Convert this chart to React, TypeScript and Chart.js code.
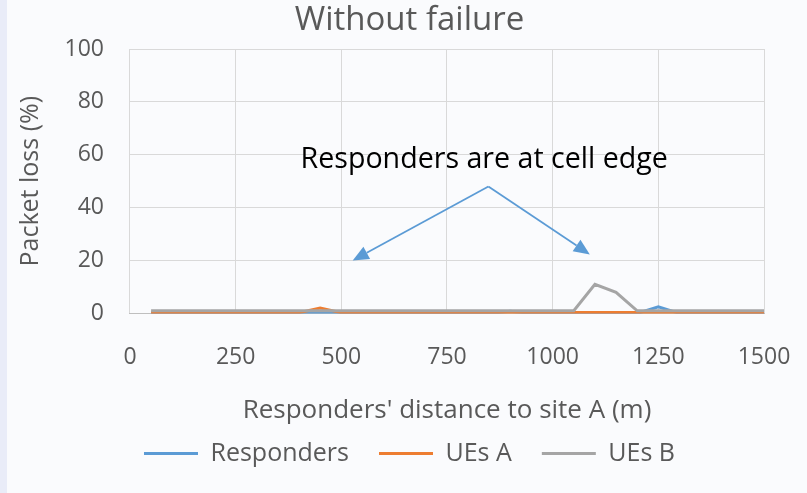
import React, { useEffect, useRef } from "react";
import { Chart, registerables } from "chart.js";

Chart.register(...registerables);

const distances = [50, 100, 150, 200, 250, 300, 350, 400, 450, 500, 550, 600, 650, 700, 750, 800, 850, 900, 950, 1000, 1050, 1100, 1150, 1200, 1250, 1300, 1350, 1400, 1450, 1500];
const responders = [0, 0, 0, 0, 0, 0, 0, 0, 0, 0, 0, 0, 0, 0, 0, 0, 0, 0.8, 0, 0, 0, 0, 0, 0, 2.5, 0, 0, 0, 0, 0];
const uesA = [0.3, 0.3, 0.3, 0.3, 0.3, 0.3, 0, 0.3, 2, 0.3, 0.3, 0.3, 0.3, 0.3, 0.3, 0.3, 0.3, 0.3, 0.3, 0.3, 0.3, 0.3, 0.3, 0.3, 0.3, 0.3, 0.3, 0.3, 0.3, 0.3];
const uesB = [1, 1, 1, 1, 1, 1, 1, 1, 1, 1, 1, 1, 1, 1, 1, 1, 1, 1, 1, 1, 1, 11, 8, 1, 1, 1, 1, 1, 1, 1];
const seriesNames = ["Responders", "UEs A", "UEs B"];
const xTicks = [0, 250, 500, 750, 1000, 1250, 1500];
const yTicks = [0, 20, 40, 60, 80, 100];

// annotation (data coordinates)
const annotationText = "Responders are at cell edge";
const annotationTextPos = { x: 838, y: 55 }; // text baseline
const arrowApex = { x: 848, y: 48 };
const arrowTargets = [
  { x: 527, y: 20 },
  { x: 1088, y: 22.3 },
];

const FONT = "'Open Sans', sans-serif";
const GREY = "#595959";

const annotationPlugin = {
  id: "cellEdgeAnnotation",
  afterDatasetsDraw(chart: any) {
    const { ctx, scales } = chart;
    const xs = scales.x;
    const ys = scales.y;
    ctx.save();
    ctx.font = `28.6px ${FONT}`;
    ctx.fillStyle = "#000000";
    ctx.textAlign = "center";
    ctx.textBaseline = "alphabetic";
    ctx.fillText(annotationText, xs.getPixelForValue(annotationTextPos.x), ys.getPixelForValue(annotationTextPos.y));
    const ax = xs.getPixelForValue(arrowApex.x);
    const ay = ys.getPixelForValue(arrowApex.y);
    ctx.strokeStyle = "#5b9bd5";
    ctx.fillStyle = "#5b9bd5";
    ctx.lineWidth = 1.75;
    for (const t of arrowTargets) {
      const tx = xs.getPixelForValue(t.x);
      const ty = ys.getPixelForValue(t.y);
      const ang = Math.atan2(ty - ay, tx - ax);
      const len = 16;
      const half = 7;
      const bx = tx - len * Math.cos(ang);
      const by = ty - len * Math.sin(ang);
      ctx.beginPath();
      ctx.moveTo(ax, ay);
      ctx.lineTo(bx, by);
      ctx.stroke();
      ctx.beginPath();
      ctx.moveTo(tx, ty);
      ctx.lineTo(bx + half * Math.sin(ang), by - half * Math.cos(ang));
      ctx.lineTo(bx - half * Math.sin(ang), by + half * Math.cos(ang));
      ctx.closePath();
      ctx.fill();
    }
    ctx.restore();
  },
};

export default function App() {
  const ref = useRef<HTMLCanvasElement>(null);
  useEffect(() => {
    document.body.style.margin = "0";
    document.body.style.background = "#fafbfd";
    const colors = ["#5b9bd5", "#ed7d31", "#a5a5a5"];
    const values = [responders, uesA, uesB];
    const chart = new Chart(ref.current!, {
      type: "line",
      data: {
        datasets: values.map((v, i) => ({
          label: seriesNames[i],
          data: distances.map((d, j) => ({ x: d, y: v[j] })),
          borderColor: colors[i],
          backgroundColor: colors[i],
          borderWidth: 3,
          pointRadius: 0,
          tension: 0,
          order: 3 - i,
        })),
      },
      options: {
        animation: false,
        responsive: false,
        layout: { padding: { left: 55, right: 43, top: 0, bottom: 17 } },
        plugins: {
          title: {
            display: true,
            text: "Without failure",
            color: GREY,
            font: { family: FONT, size: 33, weight: "normal" },
            padding: { top: 1, bottom: 8.4 },
          },
          legend: {
            position: "bottom",
            labels: {
              usePointStyle: true,
              pointStyle: "line",
              pointStyleWidth: 54,
              color: GREY,
              font: { family: FONT, size: 25 },
              padding: 30,
              sort: (a: any, b: any) => a.datasetIndex - b.datasetIndex,
            },
          },
          tooltip: { enabled: false },
        },
        scales: {
          x: {
            type: "linear",
            min: 0,
            max: 1500,
            afterBuildTicks: (s: any) => {
              s.ticks = xTicks.map((v) => ({ value: v }));
            },
            afterFit: (s: any) => {
              s.paddingLeft = 0;
              s.paddingRight = 0;
            },
            ticks: {
              color: GREY,
              font: { family: FONT, size: 23 },
              padding: 30,
              maxRotation: 0,
              callback: (v: any) => String(v),
            },
            grid: { color: "#d9d9d9", drawTicks: false },
            border: { color: "#bfbfbf" },
            title: {
              display: true,
              text: "Responders' distance to site A (m)",
              color: GREY,
              font: { family: FONT, size: 26 },
              padding: { top: -6.2, bottom: -15 },
            },
          },
          y: {
            min: 0,
            max: 100,
            afterBuildTicks: (s: any) => {
              s.ticks = yTicks.map((v) => ({ value: v }));
            },
            ticks: { color: GREY, font: { family: FONT, size: 23 }, padding: 26 },
            grid: { color: "#d9d9d9", drawTicks: false },
            border: { display: false },
            title: {
              display: true,
              text: "Packet loss (%)",
              color: GREY,
              font: { family: FONT, size: 25 },
              padding: { top: -39, bottom: -7.5 },
            },
          },
        },
      },
      plugins: [annotationPlugin],
    });
    return () => chart.destroy();
  }, []);
  return (
    <div style={{ position: "relative", width: 807, height: 493, background: "#fafbfd" }}>
      <div style={{ position: "absolute", left: 0, top: 0, width: 7, height: 493, background: "#e9ecf8" }} />
      <canvas ref={ref} width={807} height={493} style={{ position: "absolute", left: 0, top: 0 }} />
    </div>
  );
}
